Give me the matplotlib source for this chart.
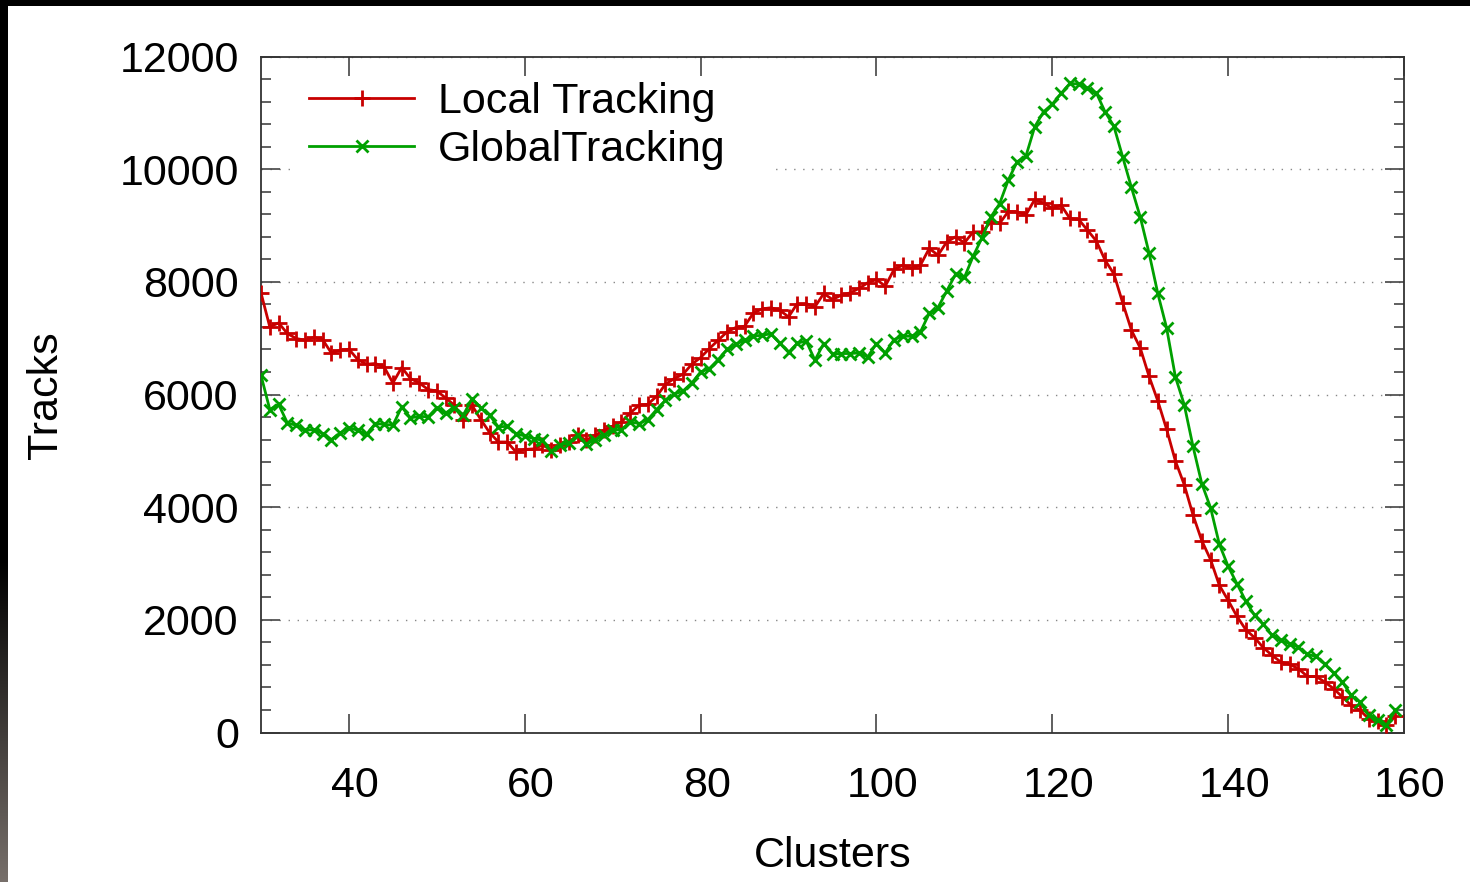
import matplotlib
matplotlib.use("Agg")
import matplotlib.pyplot as plt
import numpy as np
from matplotlib.patches import Rectangle
from matplotlib.ticker import MultipleLocator
from matplotlib.transforms import ScaledTranslation

plt.rcParams['font.family'] = ['Liberation Sans', 'DejaVu Sans']

# cluster count 30..159
clusters = list(range(30, 160))

local_tracks = [
    7804, 7200, 7271, 7083, 6994, 6964, 7012, 6976, 6738, 6786,
    6804, 6621, 6537, 6550, 6490, 6205, 6479, 6283, 6205, 6088,
    6063, 5939, 5809, 5555, 5809, 5555, 5324, 5157, 5157, 4980,
    5025, 5035, 5100, 5022, 5099, 5157, 5277, 5188, 5277, 5365,
    5436, 5513, 5673, 5809, 5827, 5969, 6182, 6283, 6360, 6537,
    6656, 6816, 6964, 7111, 7189, 7212, 7445, 7520, 7540, 7496,
    7378, 7615, 7615, 7555, 7793, 7686, 7763, 7804, 7882, 7982,
    8042, 7923, 8219, 8296, 8237, 8296, 8592, 8473, 8710, 8799,
    8692, 8887, 8887, 9060, 9036, 9250, 9242, 9190, 9462, 9400,
    9303, 9361, 9125, 9107, 8917, 8727, 8385, 8142, 7630, 7141,
    6827, 6324, 5886, 5383, 4820, 4401, 3862, 3406, 3069, 2612,
    2346, 2062, 1826, 1684, 1506, 1369, 1250, 1209, 1133, 996,
    996, 895, 778, 629, 481, 392, 244, 202, 126, 286,
]

global_tracks = [
    6342, 5733, 5827, 5495, 5454, 5365, 5378, 5307, 5200, 5318,
    5413, 5365, 5294, 5484, 5472, 5454, 5779, 5584, 5614, 5602,
    5768, 5673, 5768, 5632, 5928, 5768, 5632, 5424, 5436, 5307,
    5264, 5218, 5188, 4990, 5099, 5140, 5277, 5117, 5200, 5277,
    5365, 5378, 5513, 5484, 5555, 5733, 5898, 6005, 6063, 6205,
    6401, 6461, 6621, 6799, 6893, 6964, 7035, 7053, 7076, 6910,
    6747, 6910, 6952, 6609, 6905, 6715, 6727, 6727, 6738, 6667,
    6905, 6738, 6976, 7035, 7035, 7111, 7438, 7544, 7840, 8136,
    8077, 8455, 8780, 9150, 9385, 9810, 10131, 10232, 10752, 11018,
    11155, 11345, 11523, 11510, 11434, 11356, 11018, 10764, 10219, 9675,
    9153, 8514, 7793, 7182, 6312, 5822, 5081, 4419, 3990, 3341,
    2950, 2643, 2334, 2080, 1920, 1725, 1636, 1577, 1517, 1387,
    1352, 1209, 1055, 895, 659, 540, 304, 215, 126, 393,
]

red = '#c80000'
green = '#00a000'
fs = 31

fig = plt.figure(figsize=(14.7, 8.82), dpi=100)
ax = fig.add_axes([261 / 1470, 1 - 732.5 / 882, 1143 / 1470, 676 / 882])

ax.plot(clusters, local_tracks, color=red, marker='+', ms=11, mew=2, lw=2,
        label='Local Tracking', zorder=3)
ax.plot(clusters, global_tracks, color=green, marker='x', ms=9, mew=2, lw=2,
        label='GlobalTracking', zorder=4)

ax.set_xlim(30, 160)
ax.set_ylim(0, 12000)
ax.set_xticks(range(40, 161, 20))
ax.set_yticks(range(0, 12001, 2000))
ax.yaxis.set_minor_locator(MultipleLocator(400))
ax.tick_params(which='both', direction='in', top=True, right=True,
               color='#444444', width=1.2)
ax.tick_params(which='major', length=14, labelsize=fs)
ax.tick_params(which='minor', length=7)
ax.tick_params(axis='y', pad=16)
ax.tick_params(axis='x', pad=24)
for lab in ax.get_xticklabels():
    lab.set_transform(lab.get_transform() + ScaledTranslation(0.06, 0, fig.dpi_scale_trans))

for s in ax.spines.values():
    s.set_color('#333333')
    s.set_linewidth(1.3)

ax.yaxis.grid(True, linestyle=(0, (1, 5.5)), color='#888888', lw=1)
ax.set_axisbelow(True)

# white key background hiding the grid behind the legend
ax.add_patch(Rectangle((0.025, 9700), 0.425, 600, transform=ax.get_yaxis_transform(),
                       facecolor='white', edgecolor='none', zorder=1.8))

ax.legend(loc='upper left', bbox_to_anchor=(0.042, 0.962), frameon=False,
          fontsize=fs, handlelength=2.44, handletextpad=0.56, labelspacing=0.19,
          borderpad=0, borderaxespad=0, numpoints=1)

fig.text(833 / 1470, 1 - 856 / 882, 'Clusters', ha='center', va='center', fontsize=fs)
fig.text(46 / 1470, 1 - 395 / 882, 'Tracks', ha='center', va='center', fontsize=fs,
         rotation=90)

# dark border of the original screenshot
fig.patches.append(Rectangle((0, 1 - 6 / 882), 1, 6 / 882, transform=fig.transFigure,
                             facecolor='black', edgecolor='none'))
edge = fig.add_axes([0, 0, 7 / 1470, 1])
shade = np.zeros((882, 1, 3))
ramp = np.clip((np.arange(882) - 560) / (882 - 560), 0, 1)
shade[:, 0, 0] = ramp * 0.47
shade[:, 0, 1] = ramp * 0.44
shade[:, 0, 2] = ramp * 0.42
edge.imshow(shade, aspect='auto', extent=(0, 1, 1, 0))
edge.axis('off')

fig.savefig('out.png', dpi=100)
